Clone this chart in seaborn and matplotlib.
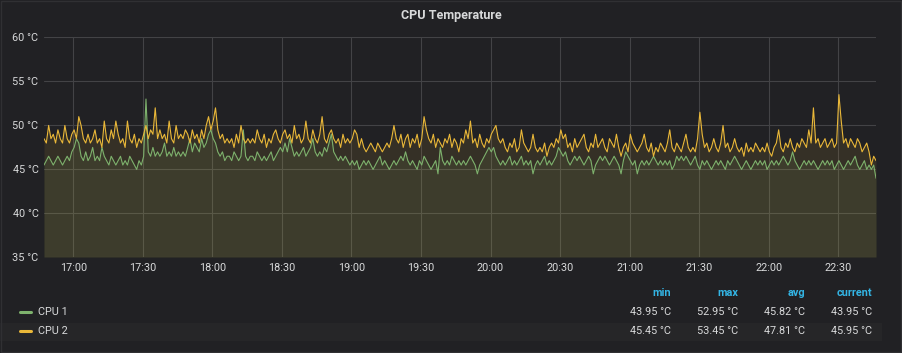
import pandas as pd
import seaborn as sns
import matplotlib.pyplot as plt
import matplotlib.dates as mdates
from matplotlib.lines import Line2D
from matplotlib.patches import Rectangle

#Readings, one per minute starting 16:47:20
START = "2019-01-01 16:47:20"

cpu1_temp = [
    45.45, 45.95, 46.45, 45.95, 45.45, 45.95, 46.45, 45.95, 45.45, 45.95,
    46.45, 45.95, 46.95, 47.45, 48.45, 47.95, 46.45, 45.95, 46.95, 45.95,
    46.45, 47.45, 45.95, 46.45, 45.95, 47.45, 46.45, 45.95, 45.45, 46.45,
    45.95, 45.45, 45.95, 46.45, 45.45, 45.95, 45.45, 46.45, 45.95, 45.45,
    44.95, 45.95, 45.45, 46.45, 52.95, 46.95, 46.45, 47.45, 46.45, 46.95,
    46.45, 46.95, 47.95, 46.45, 46.95, 46.45, 47.45, 46.45, 46.95, 46.45,
    46.95, 46.45, 47.45, 48.45, 46.95, 47.95, 47.45, 46.95, 48.45, 47.45,
    47.95, 48.95, 49.45, 48.45, 47.95, 46.95, 46.45, 46.95, 45.95, 46.45,
    46.45, 45.95, 46.95, 46.45, 45.95, 46.45, 49.45, 46.45, 45.95, 46.45,
    46.45, 45.95, 46.95, 46.45, 45.95, 46.45, 45.95, 46.45, 46.95, 45.95,
    46.45, 46.95, 47.45, 46.95, 47.95, 46.95, 48.45, 47.45, 46.45, 46.95,
    46.45, 46.95, 47.45, 46.45, 46.95, 47.45, 48.45, 46.95, 46.45, 46.95,
    46.45, 47.45, 46.95, 47.95, 48.95, 46.95, 46.45, 45.95, 46.45, 45.95,
    46.45, 45.95, 45.45, 45.95, 45.45, 45.95, 44.95, 45.45, 45.95, 45.45,
    45.95, 45.45, 44.95, 45.45, 45.95, 46.45, 45.45, 45.95, 45.45, 44.95,
    45.45, 45.95, 45.45, 45.95, 46.45, 45.95, 46.95, 45.95, 45.45, 45.95,
    45.45, 44.95, 45.95, 45.45, 46.45, 45.95, 45.45, 44.95, 45.45, 45.95,
    44.45, 47.45, 45.95, 45.45, 45.95, 45.45, 46.45, 45.95, 45.45, 45.95,
    45.45, 45.95, 45.45, 45.95, 46.45, 45.95, 45.45, 44.45, 45.45, 45.95,
    46.45, 46.95, 47.45, 46.95, 47.45, 46.45, 45.95, 45.45, 45.95, 45.45,
    45.95, 46.45, 45.45, 45.95, 45.45, 45.95, 46.45, 45.45, 45.95, 45.45,
    45.95, 44.45, 45.45, 45.95, 45.45, 45.95, 46.45, 45.45, 45.95, 45.45,
    45.95, 46.45, 47.45, 46.95, 46.45, 46.95, 45.95, 45.45, 45.95, 46.45,
    45.95, 46.45, 45.95, 45.45, 45.95, 46.45, 45.95, 44.45, 45.45, 45.95,
    46.45, 45.95, 46.45, 45.95, 45.45, 45.95, 46.45, 45.95, 45.45, 44.45,
    45.95, 46.95, 46.45, 45.95, 45.45, 45.95, 44.45, 45.45, 45.95, 45.45,
    45.95, 45.45, 45.95, 46.45, 45.95, 45.45, 45.95, 45.45, 45.95, 45.45,
    45.95, 44.95, 45.45, 46.45, 45.95, 46.45, 45.95, 46.45, 45.95, 45.45,
    45.95, 46.45, 45.45, 44.95, 45.95, 45.45, 45.95, 45.45, 44.95, 45.45,
    45.95, 45.45, 45.95, 45.45, 44.95, 45.95, 45.45, 45.95, 46.45, 45.95,
    45.45, 44.95, 45.45, 45.95, 45.45, 44.95, 45.45, 45.95, 45.45, 45.95,
    45.45, 45.95, 44.95, 45.45, 45.95, 45.45, 45.95, 45.45, 45.95, 46.45,
    45.95, 45.45, 45.95, 46.95, 45.95, 45.45, 44.95, 45.45, 45.95, 45.45,
    45.95, 45.45, 45.95, 45.45, 44.95, 45.45, 45.95, 45.45, 45.95, 45.45,
    45.95, 44.95, 45.45, 45.95, 45.45, 44.95, 45.45, 45.95, 45.45, 45.95,
    46.45, 45.45, 44.95, 45.45, 45.95, 44.95, 45.45, 44.95, 45.45, 43.95,
]

cpu2_temp = [
    48.45, 47.95, 49.95, 48.45, 48.95, 47.95, 49.45, 48.45, 47.95, 49.95,
    48.45, 47.95, 48.95, 49.45, 48.45, 50.95, 49.95, 48.45, 47.95, 48.95,
    47.95, 48.45, 49.45, 47.95, 48.45, 47.45, 50.45, 48.45, 47.95, 49.45,
    48.45, 50.45, 48.95, 47.95, 48.45, 47.45, 50.45, 48.45, 47.95, 48.95,
    47.45, 48.45, 47.95, 48.95, 49.95, 48.45, 49.45, 48.95, 51.95, 48.45,
    49.45, 48.45, 48.95, 47.95, 50.45, 48.45, 47.95, 49.95, 48.45, 48.95,
    48.45, 49.45, 48.95, 47.95, 49.45, 48.45, 48.95, 47.95, 49.45, 48.45,
    49.95, 50.95, 49.45, 50.45, 51.95, 49.45, 48.45, 48.95, 47.95, 48.45,
    47.95, 48.45, 47.45, 48.95, 47.95, 49.95, 48.45, 47.95, 48.45, 47.95,
    48.45, 47.95, 49.45, 48.45, 47.95, 48.95, 47.45, 48.45, 47.95, 48.95,
    49.45, 48.45, 47.95, 48.95, 49.45, 48.45, 48.95, 47.95, 49.95, 48.45,
    48.95, 47.95, 48.45, 50.45, 48.45, 47.95, 49.45, 48.45, 47.95, 48.95,
    50.95, 48.45, 47.95, 48.95, 49.45, 48.45, 47.95, 48.45, 47.45, 48.95,
    47.95, 48.45, 47.95, 48.45, 49.45, 48.95, 47.45, 48.45, 47.45, 46.95,
    47.45, 47.95, 47.45, 46.95, 47.95, 47.45, 46.95, 47.45, 47.95, 47.45,
    48.45, 49.95, 48.45, 47.95, 48.95, 47.45, 48.45, 48.95, 47.45, 48.45,
    47.95, 48.95, 47.45, 48.45, 50.95, 49.45, 48.45, 47.95, 48.95, 47.45,
    48.45, 47.95, 47.45, 48.45, 47.95, 48.95, 47.45, 48.45, 47.95, 46.95,
    48.45, 47.95, 49.45, 48.45, 50.45, 47.95, 48.45, 47.45, 48.95, 47.95,
    47.45, 48.45, 47.95, 48.95, 49.45, 49.95, 48.45, 47.95, 48.45, 47.45,
    46.95, 47.95, 47.45, 48.45, 46.95, 47.45, 49.45, 47.95, 47.45, 46.95,
    47.45, 48.95, 47.45, 46.95, 47.45, 46.95, 47.95, 46.45, 47.45, 47.95,
    47.45, 48.45, 47.95, 49.45, 48.45, 48.95, 47.45, 47.95, 46.95, 48.45,
    47.45, 47.95, 48.45, 48.95, 47.45, 46.95, 47.95, 47.45, 48.95, 47.45,
    47.95, 48.45, 47.45, 46.95, 48.45, 47.95, 47.45, 48.95, 47.45, 46.45,
    47.45, 47.95, 46.95, 48.95, 47.95, 47.45, 46.95, 47.45, 47.95, 48.95,
    47.45, 46.95, 47.95, 46.45, 47.45, 46.95, 47.95, 47.45, 46.95, 47.95,
    49.45, 47.45, 46.95, 47.95, 47.45, 46.95, 47.95, 48.95, 47.45, 46.95,
    47.45, 46.95, 48.45, 51.45, 48.95, 47.45, 47.95, 46.95, 47.45, 48.45,
    47.45, 46.95, 47.95, 49.95, 47.45, 47.95, 46.95, 47.45, 48.45, 47.45,
    46.95, 47.45, 46.45, 47.95, 46.95, 47.45, 46.95, 47.95, 47.45, 46.95,
    47.45, 46.95, 47.95, 46.95, 46.45, 47.45, 47.95, 49.45, 47.45, 46.95,
    47.95, 47.45, 48.45, 47.45, 46.95, 47.95, 47.45, 48.45, 47.95, 47.45,
    49.45, 47.95, 51.95, 47.95, 48.45, 47.45, 47.95, 48.45, 47.45, 47.95,
    48.45, 47.45, 47.95, 53.45, 50.45, 47.95, 48.45, 47.45, 48.45, 47.95,
    47.45, 48.45, 47.95, 46.95, 47.45, 47.95, 46.95, 45.45, 46.45, 45.95,
]

series_names = ["CPU 1", "CPU 2"]
series_colors = ["#7eb26d", "#eab839"]
stat_headers = ["min", "max", "avg", "current"]
stat_rows = [
    ["43.95 °C", "52.95 °C", "45.82 °C", "43.95 °C"],
    ["45.45 °C", "53.45 °C", "47.81 °C", "45.95 °C"],
]
y_ticks = [35, 40, 45, 50, 55, 60]

BG = "#212124"
TEXT = "#d8d9da"
GRID = "#434346"

times = pd.date_range(START, periods=len(cpu1_temp), freq="1min")
df = pd.DataFrame({
    "time": list(times) * 2,
    "temp": cpu1_temp + cpu2_temp,
    "series": [series_names[0]] * len(cpu1_temp) + [series_names[1]] * len(cpu2_temp),
})

sns.set_theme(style="dark")
plt.rcParams["font.family"] = ["Roboto", "DejaVu Sans"]

fig = plt.figure(figsize=(9.02, 3.53), dpi=100, facecolor=BG)
ax = fig.add_axes([44 / 902, 96 / 353, 832 / 902, 220 / 353])
ax.set_facecolor(BG)

# fills first (grafana style area under each line)
for name, color in zip(series_names, series_colors):
    sub = df[df["series"] == name]
    ax.fill_between(sub["time"], 35, sub["temp"], color=color, alpha=0.1, lw=0)

sns.lineplot(data=df, x="time", y="temp", hue="series", palette=series_colors,
             linewidth=0.8, legend=False, ax=ax)

ax.set_xlim(times[0], times[-1])
ax.set_ylim(35, 60)
ax.set_yticks(y_ticks)
ax.set_yticklabels([f"{v} °C" for v in y_ticks])
ax.xaxis.set_major_locator(mdates.MinuteLocator(byminute=[0, 30]))
ax.xaxis.set_major_formatter(mdates.DateFormatter("%H:%M"))
ax.set_xlabel("")
ax.set_ylabel("")
ax.grid(True, color=GRID, linewidth=0.8)
ax.tick_params(colors=TEXT, labelsize=7.8, length=0, pad=4)
for s in ax.spines.values():
    s.set_visible(False)

fig.text(0.5, 1 - 16 / 353, "CPU Temperature", ha="center", va="center",
         color=TEXT, fontsize=9, fontweight="bold")

# legend table under the graph
fig.add_artist(Rectangle((0.0, 1 - 341 / 353), 882 / 902, 18 / 353,
                         transform=fig.transFigure, color="#262628", lw=0, zorder=0))
col_x = [671, 738, 805, 872]
for cx, h in zip(col_x, stat_headers):
    fig.text(cx / 902, 1 - 293 / 353, h, ha="right", va="center",
             color="#33b5e5", fontsize=7.8, fontweight="bold")
for r, (name, color, vals) in enumerate(zip(series_names, series_colors, stat_rows)):
    yy = 1 - (312 + 19 * r) / 353
    fig.add_artist(Line2D([20 / 902, 31 / 902], [yy, yy], color=color, lw=2.2,
                          solid_capstyle="round", transform=fig.transFigure))
    fig.text(38 / 902, yy, name, ha="left", va="center", color=TEXT, fontsize=7.8)
    for cx, v in zip(col_x, vals):
        fig.text(cx / 902, yy, v, ha="right", va="center", color=TEXT, fontsize=7.8)

fig.add_artist(Rectangle((0.001, 0.002), 0.998, 0.996, transform=fig.transFigure,
                         fill=False, edgecolor="#303033", lw=1))

plt.savefig("out.png", dpi=100, facecolor=BG)
